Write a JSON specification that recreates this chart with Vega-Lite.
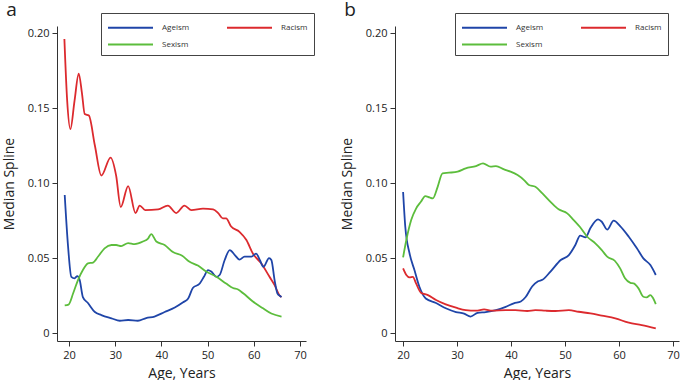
{
  "$schema": "https://vega.github.io/schema/vega-lite/v6.json",
  "padding": {"left": 2, "top": 0, "right": 0, "bottom": 0},
  "background": "white",
  "spacing": 25,
  "config": {
    "view": {"stroke": null},
    "font": "Open Sans",
    "axis": {"grid": false, "domainColor": "#333", "tickColor": "#333", "tickSize": 5, "labelFontSize": 11, "labelColor": "#222", "titleFontSize": 14, "titleFontWeight": "normal", "titleColor": "#222", "labelPadding": 3},
    "title": {"fontSize": 19, "fontWeight": "normal", "anchor": "start", "frame": "bounds", "color": "#222", "offset": -7},
    "legend": {"orient": "none", "columns": 2, "strokeColor": "#444", "fillColor": "white", "padding": 6, "symbolType": "M-1,0H5", "symbolSize": 225, "symbolStrokeWidth": 2, "labelFontSize": 8, "labelColor": "#333", "labelOffset": 38, "columnPadding": 33, "rowPadding": 4, "title": null}
  },
  "datasets": {
    "a": [
      {"s":"Racism","age":19.0,"v":0.196},{"s":"Racism","age":19.6,"v":0.155},{"s":"Racism","age":20.3,"v":0.136},{"s":"Racism","age":21.2,"v":0.155},{"s":"Racism","age":22.1,"v":0.173},{"s":"Racism","age":22.8,"v":0.160},{"s":"Racism","age":23.4,"v":0.146},{"s":"Racism","age":24.3,"v":0.145},{"s":"Racism","age":25.6,"v":0.125},{"s":"Racism","age":27.0,"v":0.105},{"s":"Racism","age":29.0,"v":0.117},{"s":"Racism","age":30.2,"v":0.105},{"s":"Racism","age":31.2,"v":0.084},{"s":"Racism","age":32.8,"v":0.098},{"s":"Racism","age":34.4,"v":0.080},{"s":"Racism","age":35.3,"v":0.085},{"s":"Racism","age":36.5,"v":0.082},{"s":"Racism","age":39.3,"v":0.0825},{"s":"Racism","age":41.4,"v":0.085},{"s":"Racism","age":43.2,"v":0.080},{"s":"Racism","age":45.0,"v":0.085},{"s":"Racism","age":46.5,"v":0.082},{"s":"Racism","age":49.0,"v":0.083},{"s":"Racism","age":51.2,"v":0.0825},{"s":"Racism","age":52.3,"v":0.080},{"s":"Racism","age":53.3,"v":0.0765},{"s":"Racism","age":54.0,"v":0.0765},{"s":"Racism","age":55.1,"v":0.071},{"s":"Racism","age":56.9,"v":0.0675},{"s":"Racism","age":58.4,"v":0.062},{"s":"Racism","age":59.8,"v":0.053},{"s":"Racism","age":61.6,"v":0.0465},{"s":"Racism","age":63.4,"v":0.0375},{"s":"Racism","age":64.5,"v":0.032},{"s":"Racism","age":65.6,"v":0.025},{"s":"Racism","age":66.0,"v":0.024},
      {"s":"Ageism","age":19.07,"v":0.092},{"s":"Ageism","age":19.8,"v":0.0575},{"s":"Ageism","age":20.5,"v":0.0375},{"s":"Ageism","age":21.2,"v":0.0365},{"s":"Ageism","age":21.8,"v":0.038},{"s":"Ageism","age":22.3,"v":0.0355},{"s":"Ageism","age":23.0,"v":0.024},{"s":"Ageism","age":24.1,"v":0.020},{"s":"Ageism","age":25.6,"v":0.014},{"s":"Ageism","age":27.0,"v":0.012},{"s":"Ageism","age":29.2,"v":0.0098},{"s":"Ageism","age":31.0,"v":0.0082},{"s":"Ageism","age":32.8,"v":0.0087},{"s":"Ageism","age":34.9,"v":0.0082},{"s":"Ageism","age":36.7,"v":0.010},{"s":"Ageism","age":38.5,"v":0.011},{"s":"Ageism","age":40.7,"v":0.014},{"s":"Ageism","age":42.9,"v":0.017},{"s":"Ageism","age":44.7,"v":0.0205},{"s":"Ageism","age":45.8,"v":0.023},{"s":"Ageism","age":46.8,"v":0.030},{"s":"Ageism","age":48.3,"v":0.033},{"s":"Ageism","age":49.2,"v":0.0375},{"s":"Ageism","age":50.1,"v":0.042},{"s":"Ageism","age":50.8,"v":0.041},{"s":"Ageism","age":51.9,"v":0.0375},{"s":"Ageism","age":52.6,"v":0.0387},{"s":"Ageism","age":53.7,"v":0.0487},{"s":"Ageism","age":54.8,"v":0.0553},{"s":"Ageism","age":55.9,"v":0.052},{"s":"Ageism","age":56.9,"v":0.049},{"s":"Ageism","age":58.0,"v":0.051},{"s":"Ageism","age":59.5,"v":0.051},{"s":"Ageism","age":60.5,"v":0.053},{"s":"Ageism","age":61.3,"v":0.0487},{"s":"Ageism","age":62.1,"v":0.0442},{"s":"Ageism","age":63.3,"v":0.050},{"s":"Ageism","age":63.8,"v":0.0487},{"s":"Ageism","age":64.5,"v":0.0353},{"s":"Ageism","age":65.1,"v":0.0265},{"s":"Ageism","age":65.7,"v":0.0247},{"s":"Ageism","age":66.0,"v":0.024},
      {"s":"Sexism","age":19.07,"v":0.0185},{"s":"Sexism","age":19.9,"v":0.019},{"s":"Sexism","age":20.9,"v":0.0265},{"s":"Sexism","age":21.9,"v":0.035},{"s":"Sexism","age":23.0,"v":0.042},{"s":"Sexism","age":24.1,"v":0.0465},{"s":"Sexism","age":25.2,"v":0.047},{"s":"Sexism","age":26.3,"v":0.051},{"s":"Sexism","age":27.7,"v":0.0565},{"s":"Sexism","age":29.2,"v":0.0587},{"s":"Sexism","age":30.2,"v":0.0587},{"s":"Sexism","age":31.3,"v":0.058},{"s":"Sexism","age":32.8,"v":0.060},{"s":"Sexism","age":34.2,"v":0.0593},{"s":"Sexism","age":36.0,"v":0.061},{"s":"Sexism","age":37.1,"v":0.063},{"s":"Sexism","age":37.8,"v":0.066},{"s":"Sexism","age":38.9,"v":0.061},{"s":"Sexism","age":40.7,"v":0.0587},{"s":"Sexism","age":42.5,"v":0.054},{"s":"Sexism","age":44.5,"v":0.0515},{"s":"Sexism","age":46.1,"v":0.0475},{"s":"Sexism","age":47.9,"v":0.045},{"s":"Sexism","age":49.7,"v":0.041},{"s":"Sexism","age":51.9,"v":0.0375},{"s":"Sexism","age":54.0,"v":0.033},{"s":"Sexism","age":55.5,"v":0.030},{"s":"Sexism","age":56.6,"v":0.029},{"s":"Sexism","age":57.7,"v":0.0265},{"s":"Sexism","age":59.8,"v":0.021},{"s":"Sexism","age":62.0,"v":0.0165},{"s":"Sexism","age":63.8,"v":0.013},{"s":"Sexism","age":66.0,"v":0.011}
    ],
    "b": [
      {"s":"Ageism","age":20.0,"v":0.094},{"s":"Ageism","age":20.4,"v":0.071},{"s":"Ageism","age":21.2,"v":0.053},{"s":"Ageism","age":22.1,"v":0.042},{"s":"Ageism","age":23.0,"v":0.031},{"s":"Ageism","age":24.2,"v":0.023},{"s":"Ageism","age":26.1,"v":0.020},{"s":"Ageism","age":27.9,"v":0.0165},{"s":"Ageism","age":29.8,"v":0.014},{"s":"Ageism","age":31.3,"v":0.013},{"s":"Ageism","age":32.5,"v":0.011},{"s":"Ageism","age":33.8,"v":0.0135},{"s":"Ageism","age":35.3,"v":0.014},{"s":"Ageism","age":37.2,"v":0.0153},{"s":"Ageism","age":39.0,"v":0.0175},{"s":"Ageism","age":40.5,"v":0.0198},{"s":"Ageism","age":41.8,"v":0.021},{"s":"Ageism","age":42.7,"v":0.024},{"s":"Ageism","age":43.9,"v":0.031},{"s":"Ageism","age":45.0,"v":0.0345},{"s":"Ageism","age":45.8,"v":0.0355},{"s":"Ageism","age":47.3,"v":0.041},{"s":"Ageism","age":49.2,"v":0.0487},{"s":"Ageism","age":50.7,"v":0.052},{"s":"Ageism","age":51.9,"v":0.0587},{"s":"Ageism","age":52.8,"v":0.065},{"s":"Ageism","age":53.8,"v":0.0638},{"s":"Ageism","age":54.7,"v":0.070},{"s":"Ageism","age":56.1,"v":0.0758},{"s":"Ageism","age":56.8,"v":0.0742},{"s":"Ageism","age":57.8,"v":0.069},{"s":"Ageism","age":59.0,"v":0.0749},{"s":"Ageism","age":60.2,"v":0.0713},{"s":"Ageism","age":61.8,"v":0.0642},{"s":"Ageism","age":63.3,"v":0.0565},{"s":"Ageism","age":64.5,"v":0.0498},{"s":"Ageism","age":65.8,"v":0.0453},{"s":"Ageism","age":66.8,"v":0.0387},
      {"s":"Racism","age":20.0,"v":0.0431},{"s":"Racism","age":20.6,"v":0.0387},{"s":"Racism","age":21.2,"v":0.0371},{"s":"Racism","age":21.8,"v":0.0375},{"s":"Racism","age":22.4,"v":0.0331},{"s":"Racism","age":23.3,"v":0.0269},{"s":"Racism","age":24.6,"v":0.0253},{"s":"Racism","age":26.1,"v":0.022},{"s":"Racism","age":27.9,"v":0.0191},{"s":"Racism","age":29.8,"v":0.0169},{"s":"Racism","age":31.6,"v":0.0153},{"s":"Racism","age":33.5,"v":0.0149},{"s":"Racism","age":35.0,"v":0.0158},{"s":"Racism","age":36.5,"v":0.0149},{"s":"Racism","age":39.0,"v":0.0153},{"s":"Racism","age":40.8,"v":0.0153},{"s":"Racism","age":43.0,"v":0.0147},{"s":"Racism","age":44.5,"v":0.0153},{"s":"Racism","age":46.4,"v":0.0149},{"s":"Racism","age":48.2,"v":0.0147},{"s":"Racism","age":50.7,"v":0.0153},{"s":"Racism","age":52.5,"v":0.0142},{"s":"Racism","age":54.7,"v":0.0131},{"s":"Racism","age":56.8,"v":0.0116},{"s":"Racism","age":59.3,"v":0.0098},{"s":"Racism","age":61.8,"v":0.0069},{"s":"Racism","age":64.2,"v":0.0053},{"s":"Racism","age":66.8,"v":0.0031},
      {"s":"Sexism","age":20.0,"v":0.0505},{"s":"Sexism","age":20.6,"v":0.062},{"s":"Sexism","age":21.5,"v":0.0753},{"s":"Sexism","age":22.4,"v":0.083},{"s":"Sexism","age":23.3,"v":0.0875},{"s":"Sexism","age":24.1,"v":0.0913},{"s":"Sexism","age":24.9,"v":0.0904},{"s":"Sexism","age":25.5,"v":0.0898},{"s":"Sexism","age":26.4,"v":0.0975},{"s":"Sexism","age":27.3,"v":0.1065},{"s":"Sexism","age":28.5,"v":0.1069},{"s":"Sexism","age":30.1,"v":0.1076},{"s":"Sexism","age":31.6,"v":0.1098},{"s":"Sexism","age":33.5,"v":0.1113},{"s":"Sexism","age":34.8,"v":0.1131},{"s":"Sexism","age":36.2,"v":0.1109},{"s":"Sexism","age":37.2,"v":0.1113},{"s":"Sexism","age":38.7,"v":0.1091},{"s":"Sexism","age":39.9,"v":0.1076},{"s":"Sexism","age":41.2,"v":0.1053},{"s":"Sexism","age":42.4,"v":0.102},{"s":"Sexism","age":43.3,"v":0.0987},{"s":"Sexism","age":44.5,"v":0.0975},{"s":"Sexism","age":45.8,"v":0.0931},{"s":"Sexism","age":47.3,"v":0.0875},{"s":"Sexism","age":48.8,"v":0.0825},{"s":"Sexism","age":50.4,"v":0.0798},{"s":"Sexism","age":51.6,"v":0.0753},{"s":"Sexism","age":52.8,"v":0.0705},{"s":"Sexism","age":54.1,"v":0.0642},{"s":"Sexism","age":55.6,"v":0.0598},{"s":"Sexism","age":56.8,"v":0.0553},{"s":"Sexism","age":57.8,"v":0.0509},{"s":"Sexism","age":59.2,"v":0.0482},{"s":"Sexism","age":60.2,"v":0.0431},{"s":"Sexism","age":61.1,"v":0.0365},{"s":"Sexism","age":62.1,"v":0.0335},{"s":"Sexism","age":62.7,"v":0.0331},{"s":"Sexism","age":63.6,"v":0.0298},{"s":"Sexism","age":64.5,"v":0.0242},{"s":"Sexism","age":65.1,"v":0.0238},{"s":"Sexism","age":65.8,"v":0.0253},{"s":"Sexism","age":66.2,"v":0.0238},{"s":"Sexism","age":66.8,"v":0.0193}
    ]
  },
  "resolve": {"scale": {"color": "independent", "x": "independent", "y": "independent"}},
  "hconcat": [
    {
      "title": {"text": "a", "dx": 4},
      "width": 249,
      "height": 315,
      "data": {"name": "a"},
      "mark": {"type": "line", "interpolate": "monotone", "strokeWidth": 1.8},
      "encoding": {
        "x": {"field": "age", "type": "quantitative", "scale": {"domain": [17.4, 71.3], "nice": false, "zero": false}, "axis": {"values": [20, 30, 40, 50, 60, 70], "title": "Age, Years", "titlePadding": 6}},
        "y": {"field": "v", "type": "quantitative", "scale": {"domain": [-0.0053, 0.2047], "nice": false, "zero": false}, "axis": {"values": [0, 0.05, 0.1, 0.15, 0.2], "labelExpr": "datum.value == 0 ? '0' : format(datum.value, '.2f')", "title": "Median Spline", "titlePadding": 11}},
        "color": {"field": "s", "type": "nominal", "scale": {"domain": ["Ageism", "Sexism", "Racism"], "range": ["#1f45a8", "#5cbd3c", "#dc2a2e"]}, "legend": {"legendX": 44, "legendY": -13}},
        "order": {"field": "age", "type": "quantitative"}
      }
    },
    {
      "title": {"text": "b", "dx": 4},
      "width": 284,
      "height": 315,
      "data": {"name": "b"},
      "mark": {"type": "line", "interpolate": "monotone", "strokeWidth": 1.8},
      "encoding": {
        "x": {"field": "age", "type": "quantitative", "scale": {"domain": [18.5, 71.1], "nice": false, "zero": false}, "axis": {"values": [20, 30, 40, 50, 60, 70], "title": "Age, Years", "titlePadding": 6}},
        "y": {"field": "v", "type": "quantitative", "scale": {"domain": [-0.0053, 0.2047], "nice": false, "zero": false}, "axis": {"values": [0, 0.05, 0.1, 0.15, 0.2], "labelExpr": "datum.value == 0 ? '0' : format(datum.value, '.2f')", "title": "Median Spline", "titlePadding": 11}},
        "color": {"field": "s", "type": "nominal", "scale": {"domain": ["Ageism", "Sexism", "Racism"], "range": ["#1f45a8", "#5cbd3c", "#dc2a2e"]}, "legend": {"legendX": 60, "legendY": -13}},
        "order": {"field": "age", "type": "quantitative"}
      }
    }
  ]
}
